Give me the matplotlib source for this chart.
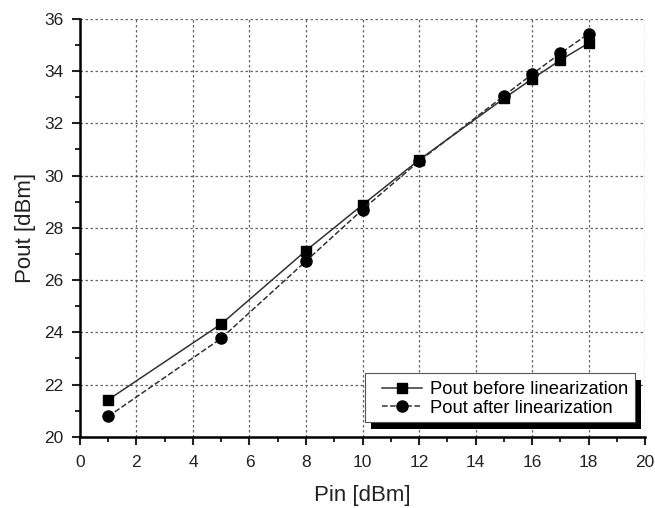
import matplotlib

matplotlib.use("Agg")

import matplotlib.pyplot as plt
from matplotlib.patches import Rectangle
from matplotlib.transforms import IdentityTransform
from matplotlib.ticker import MultipleLocator

plt.rcParams["font.family"] = ["Liberation Sans", "DejaVu Sans"]

pin = [1, 5, 8, 10, 12, 15, 16, 17, 18]
pout_before = [21.42, 24.32, 27.13, 28.88, 30.6, 32.95, 33.7, 34.42, 35.07]
pout_after = [20.78, 23.77, 26.73, 28.7, 30.55, 33.05, 33.88, 34.68, 35.43]

fig = plt.figure(figsize=(6.55, 5.08), dpi=100)
ax = fig.add_axes([0.122, 0.140, 0.863, 0.823])

ax.plot(pin, pout_before, "-", color="#333333", linewidth=1.1,
        marker="s", markersize=7.5, markerfacecolor="black", markeredgecolor="black",
        label="Pout before linearization")
ax.plot(pin, pout_after, "--", color="#333333", linewidth=1.1,
        marker="o", markersize=8, markerfacecolor="black", markeredgecolor="black",
        label="Pout after linearization")

ax.set_xlim(0, 20)
ax.set_ylim(20, 36)
ax.xaxis.set_major_locator(MultipleLocator(2))
ax.xaxis.set_minor_locator(MultipleLocator(1))
ax.yaxis.set_major_locator(MultipleLocator(2))
ax.yaxis.set_minor_locator(MultipleLocator(1))

ax.grid(True, which="major", linestyle=(0, (2, 2)), color="#666666", linewidth=0.9)
ax.set_axisbelow(True)

for side in ("top", "right"):
    ax.spines[side].set_visible(False)
for side in ("left", "bottom"):
    ax.spines[side].set_linewidth(1.8)

ax.tick_params(which="major", direction="out", length=6, width=1.5, labelsize=12.5,
               colors="#222222")
ax.tick_params(which="minor", direction="out", length=3.5, width=1.2)
ax.tick_params(axis="x", which="major", pad=7)
ax.tick_params(axis="y", which="major", pad=6)

ax.set_xlabel("Pin [dBm]", fontsize=16, labelpad=11, color="#222222")
ax.set_ylabel("Pout [dBm]", fontsize=16, labelpad=6, color="#222222")

leg = ax.legend(loc="center", bbox_to_anchor=(0.771, 0.2146),
                bbox_transform=fig.transFigure, fontsize=13.2, frameon=False,
                handlelength=2.2, borderpad=0, labelspacing=0.08,
                handletextpad=0.4)

# boxed legend frame with a hard black drop shadow
fig.canvas.draw()
bb = leg.get_window_extent()
pad_l, pad_r, pad_t, pad_b = 17, 7, 8, 5
x0, y0 = bb.x0 - pad_l, bb.y0 - pad_b
w, h = bb.width + pad_l + pad_r, bb.height + pad_t + pad_b
ax.add_patch(Rectangle((x0 + 6, y0 - 7), w, h, transform=IdentityTransform(),
                       facecolor="black", edgecolor="none", zorder=4.8, clip_on=False))
ax.add_patch(Rectangle((x0, y0), w, h, transform=IdentityTransform(),
                       facecolor="white", edgecolor="#555555", linewidth=0.8,
                       zorder=4.9, clip_on=False))

fig.savefig("out.png", dpi=100, facecolor="white")
